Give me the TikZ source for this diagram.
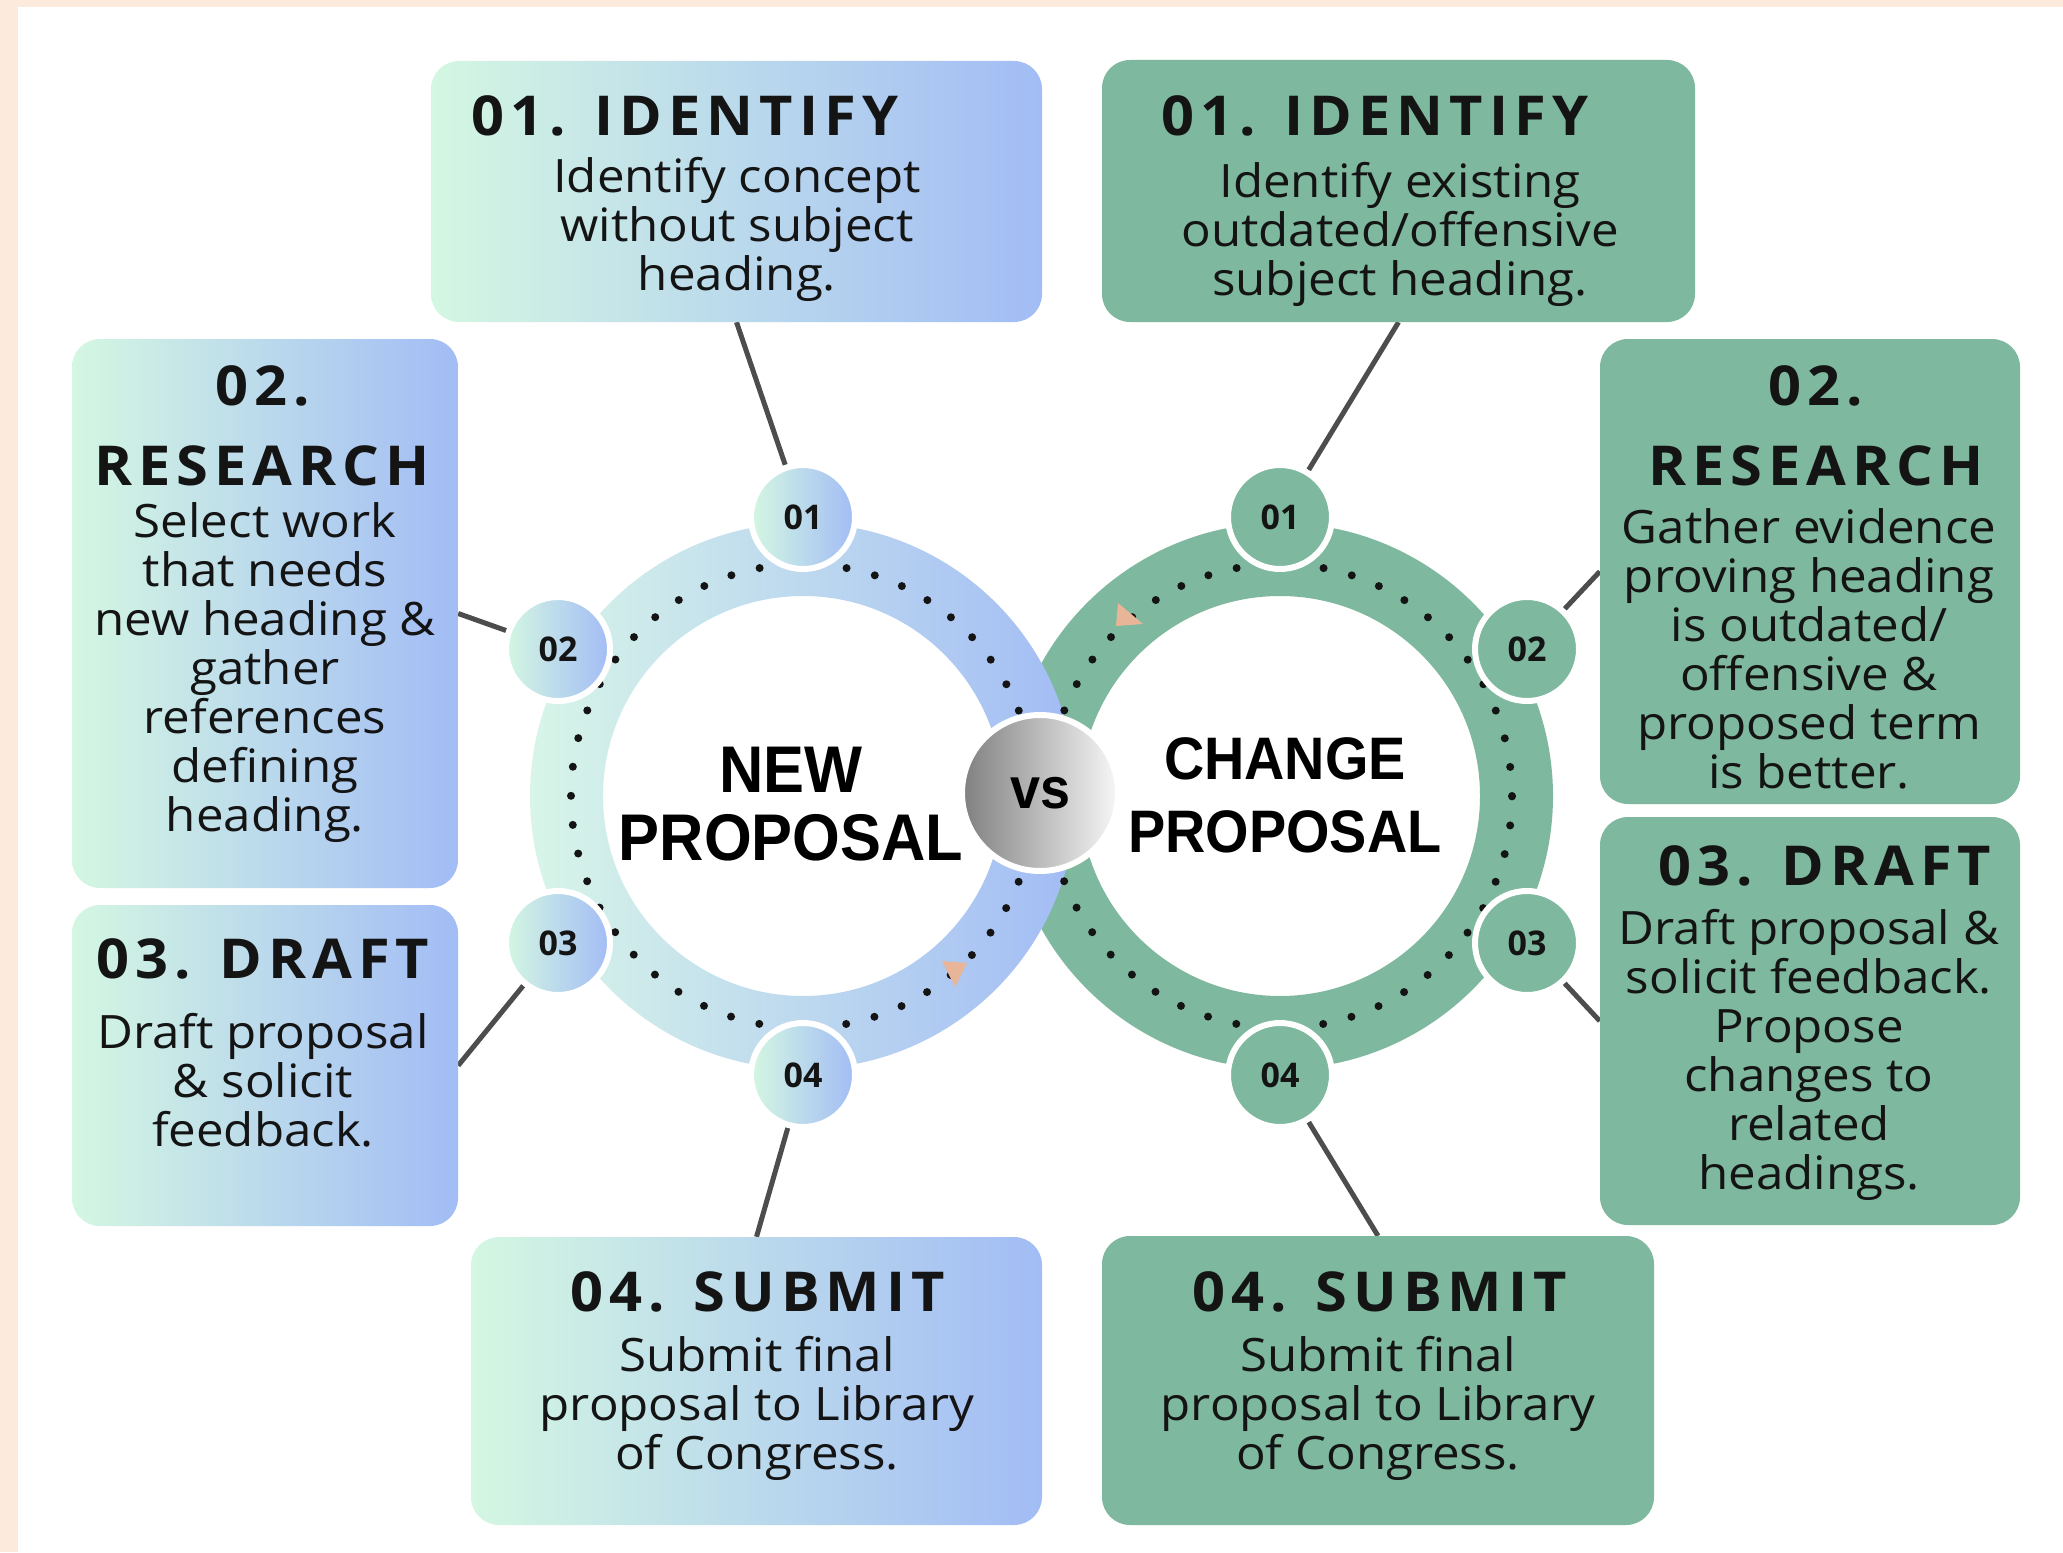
\documentclass[tikz,border=0pt]{standalone}
\usepackage{fontspec}
\setmainfont{Open Sans}
\newfontfamily\bodyfont{Open Sans}[FakeStretch=1.07]
\newfontfamily\headfont{Open Sans}[FakeStretch=1.05,LetterSpace=11]
\newfontfamily\bigfont{Liberation Sans}[FakeStretch=0.93]
\newfontfamily\numfont{Open Sans}
\definecolor{mint}{HTML}{D4F7E2}
\definecolor{ringL}{HTML}{D8F5E8}
\definecolor{peri}{HTML}{A2BCF5}
\definecolor{sage}{HTML}{7EB89E}
\definecolor{beige}{HTML}{FCEBDC}
\definecolor{peach}{HTML}{E8B598}
\definecolor{conn}{HTML}{4D4D4D}
\definecolor{ink}{HTML}{141414}
\pgfdeclarelayer{back}
\pgfdeclarelayer{mid}
\pgfsetlayers{back,mid,main}
\begin{document}
\begin{tikzpicture}[x=1pt,y=-1pt,
  lbox/.style={rectangle, rounded corners=28pt, left color=mint, right color=peri, inner sep=0pt},
  rbox/.style={rectangle, rounded corners=28pt, fill=sage, inner sep=0pt},
  titletxt/.style={font=\headfont\bfseries\fontsize{55}{60}\selectfont, inner sep=0pt, text=ink},
  bodytxt/.style={font=\bodyfont\fontsize{46}{49}\selectfont, align=center, inner sep=0pt, text=ink},
  bigtxt/.style={font=\bigfont\bfseries\fontsize{66}{70}\selectfont, inner sep=0pt, text=black},
  bigtxtr/.style={font=\bigfont\bfseries\fontsize{60}{64}\selectfont, inner sep=0pt, text=black},
  bub/.style={circle, minimum size=104pt, inner sep=0pt, draw=white, line width=6pt, text=ink,
    font=\numfont\bfseries\fontsize{34}{36}\selectfont},
  lbub/.style={bub, left color=mint, right color=peri},
  rbub/.style={bub, fill=sage},
  link/.style={draw=conn, line width=5pt},
  dotring/.style={draw=ink, line width=8pt, line cap=round, dash pattern=on 0pt off 29.15pt}
]
\useasboundingbox (0,0) rectangle (2063,1552);
\begin{pgfonlayer}{back}
  \fill[beige] (0,0) rectangle (2063,1552);
  \fill[white] (18,7) rectangle (2063,1552);
  \fill[sage, even odd rule] (1280,796) circle (273pt) (1280,796) circle (200pt);
  \path[left color=ringL, right color=peri, even odd rule] (803,796) circle (273pt) (803,796) circle (200pt);
  \draw[dotring] (803,796) circle (232pt);
  \draw[dotring] (1280,796) circle (232pt);
  \fill[peach] (942,961) -- (967,963) -- (955,987) -- cycle;
  \fill[peach] (1118,603) -- (1143,624) -- (1116,626) -- cycle;
\end{pgfonlayer}

% boxes
\node[lbox, minimum width=611pt, minimum height=261pt] (L1) at (736.5,191.5) {};
\node[lbox, minimum width=386pt, minimum height=549pt] (L2) at (265,613.5) {};
\node[lbox, minimum width=386pt, minimum height=321pt] (L3) at (265,1065.5) {};
\node[lbox, minimum width=571pt, minimum height=288pt] (L4) at (756.5,1381) {};
\node[rbox, minimum width=593pt, minimum height=262pt] (R1) at (1398.5,191) {};
\node[rbox, minimum width=420pt, minimum height=465pt] (R2) at (1810,571.5) {};
\node[rbox, minimum width=420pt, minimum height=408pt] (R3) at (1810,1021) {};
\node[rbox, minimum width=552pt, minimum height=289pt] (R4) at (1378,1380.5) {};

% bubbles
\node[lbub] (lb1) at (803,517) {01};
\node[lbub] (lb2) at (558,649) {02};
\node[lbub] (lb3) at (558,943) {03};
\node[lbub] (lb4) at (803,1075) {04};
\node[rbub] (rb1) at (1280,517) {01};
\node[rbub] (rb2) at (1527,649) {02};
\node[rbub] (rb3) at (1527,943) {03};
\node[rbub] (rb4) at (1280,1075) {04};

% connectors
\begin{pgfonlayer}{mid}
  \draw[link] (L1.south) -- (lb1);
  \draw[link] (L2.east) -- (lb2);
  \draw[link] (L3.east) -- (lb3);
  \draw[link] (L4.north) -- (lb4);
  \draw[link] (R1.south) -- (rb1);
  \draw[link] (R2.west) -- (rb2);
  \draw[link] (R3.west) -- (rb3);
  \draw[link] (R4.north) -- (rb4);
\end{pgfonlayer}

% vs
\node[circle, minimum size=156pt, inner sep=0pt, draw=white, line width=6pt,
  left color=black!50, right color=black!3, text=black,
  font=\bigfont\bfseries\fontsize{58}{60}\selectfont] (vs) at (1040,793) {vs};

% centre titles
\node[bigtxt] (newA) at (791,770) {NEW};
\node[bigtxt] (newB) at (791,838) {PROPOSAL};
\node[bigtxtr] (chgA) at (1285,759) {CHANGE};
\node[bigtxtr] (chgB) at (1285,832) {PROPOSAL};

% left texts
\node[titletxt] (tL1) at (685,116) {01. IDENTIFY};
\node[bodytxt] (bL1) at (737,229) {Identify concept\\without subject\\heading.};
\node[titletxt] (tL2a) at (263,386) {02.};
\node[titletxt] (tL2b) at (262,466) {RESEARCH};
\node[bodytxt] (bL2) at (265,673) {Select work\\that needs\\new heading \&\\gather\\references\\defining\\heading.};
\node[titletxt] (tL3) at (263,959) {03. DRAFT};
\node[bodytxt] (bL3) at (263,1080) {Draft proposal\\\& solicit\\feedback.};
\node[titletxt] (tL4) at (758,1292) {04. SUBMIT};
\node[bodytxt] (bL4) at (757,1408) {Submit final\\proposal to Library\\of Congress.};

% right texts
\node[titletxt] (tR1) at (1375,116) {01. IDENTIFY};
\node[bodytxt] (bR1) at (1400,234) {Identify existing\\outdated/offensive\\subject heading.};
\node[titletxt] (tR2a) at (1816,386) {02.};
\node[titletxt] (tR2b) at (1816,466) {RESEARCH};
\node[bodytxt] (bR2) at (1809,649) {Gather evidence\\proving heading\\is outdated/\\offensive \&\\proposed term\\is better.};
\node[titletxt] (tR3) at (1825,866) {03. DRAFT};
\node[bodytxt] (bR3) at (1809,1055) {Draft proposal \&\\solicit feedback.\\Propose\\changes to\\related\\headings.};
\node[titletxt] (tR4) at (1380,1292) {04. SUBMIT};
\node[bodytxt] (bR4) at (1378,1408) {Submit final\\proposal to Library\\of Congress.};
\end{tikzpicture}
\end{document}
